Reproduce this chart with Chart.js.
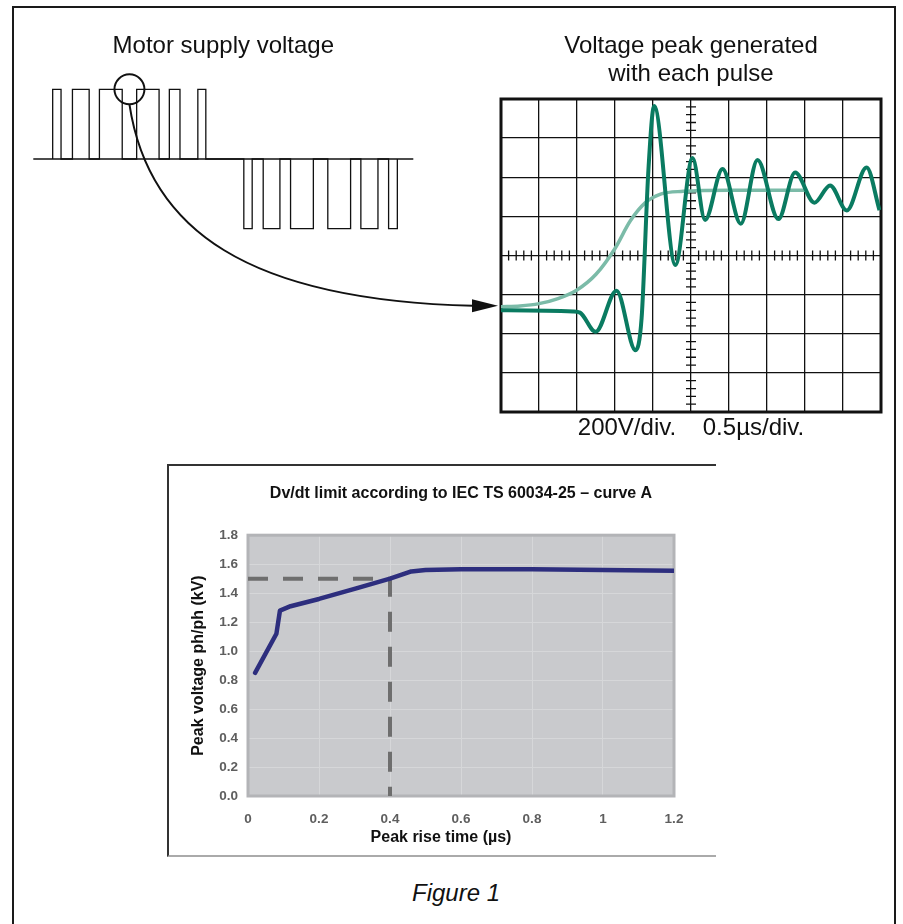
<!DOCTYPE html>
<html>
<head>
<meta charset="utf-8">
<script src="https://cdn.jsdelivr.net/npm/chart.js@4.4.1/dist/chart.umd.min.js"></script>
<style>
html,body{margin:0;padding:0;background:#fff;width:903px;height:924px;overflow:hidden;}
body{position:relative;font-family:'Liberation Sans',Arial,Helvetica,sans-serif;}
#frame{position:absolute;left:12px;top:6px;width:884px;height:960px;border:2px solid #1a1a1a;box-sizing:border-box;}
canvas{position:absolute;}
#pwm{left:0;top:0;z-index:3;}
#scope{left:440px;top:0;z-index:2;}
#box{position:absolute;left:167px;top:464px;width:549px;height:393px;border-top:2px solid #333;border-left:2px solid #333;border-bottom:2px solid #aaa;box-sizing:border-box;}
#limit{left:168px;top:465px;z-index:2;}
#caption{position:absolute;left:0;width:912px;top:881px;text-align:center;font-style:italic;font-size:24px;line-height:24px;color:#111;}
</style>
</head>
<body>
<div id="frame"></div>
<div id="box"></div>
<canvas id="scope" width="455" height="450"></canvas>
<canvas id="pwm" width="520" height="330"></canvas>
<canvas id="limit" width="548" height="392"></canvas>
<div id="caption">Figure 1</div>
<script>
// ---------- Motor supply voltage (PWM pulses, arbitrary time units 0..100) ----------
const pulseStart = [5.1, 10.3, 17.4, 27.2, 35.8, 43.3, 55.4, 60.5, 67.7, 77.5, 86.2, 93.5];
const pulseEnd   = [7.3, 14.7, 23.4, 33.1, 38.6, 45.4, 57.6, 64.9, 73.7, 83.5, 90.7, 95.8];
const pulseLevel = [1, 1, 1, 1, 1, 1, -1, -1, -1, -1, -1, -1];
const pwmRange   = [0, 100];

// ---------- Oscilloscope trace (divisions: x 0..10, y -4..4) ----------
const scopeDarkX = [0, 1.9, 2.08, 2.49, 3.04, 3.54, 3.70, 3.88, 4.03, 4.59, 5.04, 5.37, 5.83, 6.31, 6.75, 7.30, 7.74, 8.25, 8.66, 9.10, 9.62, 9.96];
const scopeDarkY = [-1.40, -1.43, -1.46, -1.95, -0.90, -2.42, -1.6, 2.2, 3.82, -0.24, 2.49, 0.91, 2.21, 0.81, 2.44, 0.93, 2.12, 1.35, 1.79, 1.15, 2.25, 1.16];
const scopeLightX = [0, 0.5, 1.0, 1.5, 2.0, 2.5, 3.0, 3.4, 3.8, 4.2, 4.8, 6.0, 8.0];
const scopeLightY = [-1.31, -1.29, -1.23, -1.10, -0.88, -0.48, 0.18, 0.88, 1.35, 1.57, 1.64, 1.67, 1.67];

// ---------- Dv/dt limit curve A ----------
const riseTime    = [0.02, 0.08, 0.09, 0.12, 0.20, 0.30, 0.40, 0.46, 0.50, 0.60, 0.80, 1.00, 1.20];
const peakVoltage = [0.85, 1.12, 1.28, 1.31, 1.36, 1.43, 1.50, 1.55, 1.56, 1.565, 1.565, 1.56, 1.555];
const markerX = [0, 0.4, 0.4];
const markerY = [1.5, 1.5, 0];
const xTickLabels = ['0', '0.2', '0.4', '0.6', '0.8', '1', '1.2'];
const yTickLabels = ['0.0', '0.2', '0.4', '0.6', '0.8', '1.0', '1.2', '1.4', '1.6', '1.8'];

const FF = "'Liberation Sans', Arial, Helvetica, sans-serif";
Chart.defaults.font.family = FF;

function pts(xs, ys) { return xs.map((x, i) => ({x: x, y: ys[i]})); }

// ---------- Scope chart ----------
const scopeDecor = {
  id: 'scopeDecor',
  beforeDatasetsDraw(chart) {
    const {ctx, chartArea: a, scales: {x, y}} = chart;
    ctx.save();
    ctx.strokeStyle = '#111';
    ctx.lineWidth = 1.3;
    const cx = x.getPixelForValue(5), cy = y.getPixelForValue(0);
    ctx.beginPath();
    for (let i = 1; i < 50; i++) {
      if (i % 5 === 0) continue;
      const px = x.getPixelForValue(i * 0.2);
      ctx.moveTo(px, cy - 5); ctx.lineTo(px, cy + 5);
    }
    for (let i = 1; i < 40; i++) {
      if (i % 5 === 0) continue;
      const py = y.getPixelForValue(-4 + i * 0.2);
      ctx.moveTo(cx - 5, py); ctx.lineTo(cx + 5, py);
    }
    ctx.stroke();
    ctx.lineWidth = 3;
    ctx.strokeRect(a.left, a.top, a.right - a.left, a.bottom - a.top);
    ctx.restore();
  }
};

const scopeChart = new Chart(document.getElementById('scope'), {
  type: 'line',
  data: {
    datasets: [
      {data: pts(scopeDarkX, scopeDarkY), borderColor: '#0a7b61', borderWidth: 4, pointRadius: 0,
       cubicInterpolationMode: 'monotone', order: 0},
      {data: pts(scopeLightX, scopeLightY), borderColor: '#7bbba8', borderWidth: 3.5, pointRadius: 0,
       cubicInterpolationMode: 'monotone', order: 1}
    ]
  },
  options: {
    responsive: false, animation: false, events: [],
    layout: {padding: {left: 61, right: 14, top: 0, bottom: 7}},
    plugins: {
      legend: {display: false}, tooltip: {enabled: false},
      title: {display: true, text: ['Voltage peak generated', 'with each pulse'], color: '#111',
              font: {size: 24, weight: 'normal', lineHeight: 28 / 24}, padding: {top: 32.7, bottom: 10.3}}
    },
    scales: {
      x: {type: 'linear', min: 0, max: 10,
          ticks: {display: false, stepSize: 1},
          grid: {color: '#111', lineWidth: 1.3, drawTicks: false},
          border: {display: false},
          title: {display: true, text: '200V/div.    0.5µs/div.', color: '#111',
                  font: {size: 24, weight: 'normal', lineHeight: 1.2}, padding: {top: 0, bottom: 0}},
          afterFit: s => { s.height = 31; }},
      y: {type: 'linear', min: -4, max: 4,
          ticks: {display: false, stepSize: 1},
          grid: {color: '#111', lineWidth: 1.3, drawTicks: false},
          border: {display: false},
          afterFit: s => { s.width = 0; }}
    }
  },
  plugins: [scopeDecor]
});

// ---------- PWM chart with the circle and the curved arrow ----------
const pwmPoints = [];
pulseStart.forEach((s, i) => {
  pwmPoints.push({x: s, y: 0}, {x: s, y: pulseLevel[i]}, {x: pulseEnd[i], y: pulseLevel[i]}, {x: pulseEnd[i], y: 0});
});

const linkDecor = {
  id: 'linkDecor',
  afterDraw(chart) {
    const {ctx, scales: {x, y}} = chart;
    const cx = x.getPixelForValue((pulseEnd[2] + pulseStart[3]) / 2);
    const cy = y.getPixelForValue(1);
    const r = 15;
    ctx.save();
    ctx.strokeStyle = '#111';
    ctx.fillStyle = '#111';
    ctx.lineWidth = 2;
    ctx.beginPath(); ctx.arc(cx, cy, r, 0, Math.PI * 2); ctx.stroke();
    const sr = scopeChart.canvas.getBoundingClientRect();
    const pr = chart.canvas.getBoundingClientRect();
    const tx = scopeChart.chartArea.left + sr.left - pr.left - 3;
    const ty = scopeChart.scales.y.getPixelForValue(scopeLightY[0]) + sr.top - pr.top - 1;
    const sx = cx, sy = cy + r;
    const headLen = 26, headHalf = 6.5;
    const ex = tx - headLen;
    ctx.beginPath();
    ctx.moveTo(sx, sy);
    ctx.bezierCurveTo(sx + 19, sy + 126, sx + 119, sy + 196, ex + 1, ty);
    ctx.stroke();
    ctx.beginPath();
    ctx.moveTo(tx, ty); ctx.lineTo(ex, ty - headHalf); ctx.lineTo(ex, ty + headHalf); ctx.closePath();
    ctx.fill();
    ctx.restore();
  }
};

new Chart(document.getElementById('pwm'), {
  type: 'line',
  data: {
    datasets: [
      {data: pwmPoints, borderColor: '#111', borderWidth: 1.3, pointRadius: 0, tension: 0, clip: false},
      {data: [{x: pwmRange[0], y: 0}, {x: pwmRange[1], y: 0}], borderColor: '#111', borderWidth: 1.3,
       pointRadius: 0, tension: 0, clip: false}
    ]
  },
  options: {
    responsive: false, animation: false, events: [],
    layout: {padding: {left: 33.3, right: 106.7, top: 0, bottom: 101.3}},
    plugins: {
      legend: {display: false}, tooltip: {enabled: false},
      title: {display: true, text: 'Motor supply voltage', color: '#111',
              font: {size: 24, weight: 'normal', lineHeight: 1.2}, padding: {top: 32.3, bottom: 28.2}}
    },
    scales: {
      x: {type: 'linear', display: false, min: pwmRange[0], max: pwmRange[1]},
      y: {type: 'linear', display: false, min: -1, max: 1}
    }
  },
  plugins: [linkDecor]
});

// ---------- Dv/dt limit chart ----------
const limitDecor = {
  id: 'limitDecor',
  beforeDraw(chart) {
    const {ctx, chartArea: a} = chart;
    ctx.save();
    ctx.fillStyle = '#c9cacd';
    ctx.fillRect(a.left, a.top, a.right - a.left, a.bottom - a.top);
    ctx.restore();
  },
  beforeDatasetsDraw(chart) {
    const {ctx, chartArea: a} = chart;
    ctx.save();
    ctx.strokeStyle = '#b3b4b7';
    ctx.lineWidth = 3;
    ctx.strokeRect(a.left, a.top, a.right - a.left, a.bottom - a.top);
    ctx.restore();
  }
};

const tickFont = {size: 13.5, weight: 'bold'};
const titleFont = {size: 16, weight: 'bold', lineHeight: 1.2};

new Chart(document.getElementById('limit'), {
  type: 'line',
  data: {
    datasets: [
      {data: pts(riseTime, peakVoltage), borderColor: '#2d2e7e', borderWidth: 4.5, pointRadius: 0, tension: 0,
       borderJoinStyle: 'round', borderCapStyle: 'round', order: 0},
      {data: pts(markerX, markerY), borderColor: '#6e6e6e', borderWidth: 4, borderDash: [20, 15],
       pointRadius: 0, tension: 0, order: 1}
    ]
  },
  options: {
    responsive: false, animation: false, events: [],
    layout: {padding: {left: 18, right: 42, top: 0, bottom: 9.4}},
    plugins: {
      legend: {display: false}, tooltip: {enabled: false},
      title: {display: true, fullSize: false, text: 'Dv/dt limit according to IEC TS 60034-25 – curve A',
              color: '#111', font: titleFont, padding: {top: 18.8, bottom: 32.2}}
    },
    scales: {
      x: {type: 'linear', min: 0, max: 1.2,
          ticks: {stepSize: 0.2, padding: 15, color: '#5e5e5e', font: tickFont, maxRotation: 0, autoSkip: false,
                  callback: (v, i) => xTickLabels[i]},
          grid: {color: '#d6d7d9', lineWidth: 1, drawTicks: false},
          border: {display: false},
          title: {display: true, text: 'Peak rise time (µs)' + '         ', color: '#111', font: titleFont,
                  padding: {top: 0, bottom: 0}},
          afterFit: s => { s.height = 51.6; }},
      y: {type: 'linear', min: 0, max: 1.8,
          ticks: {stepSize: 0.2, padding: 10, color: '#5e5e5e', font: tickFont, autoSkip: false,
                  callback: (v, i) => yTickLabels[i]},
          grid: {color: '#d6d7d9', lineWidth: 1, drawTicks: false},
          border: {display: false},
          title: {display: true, text: 'Peak voltage ph/ph (kV)', color: '#111', font: titleFont,
                  padding: {top: 3.4, bottom: 0}},
          afterFit: s => { s.width = 62; }}
    }
  },
  plugins: [limitDecor]
});
</script>
</body>
</html>
